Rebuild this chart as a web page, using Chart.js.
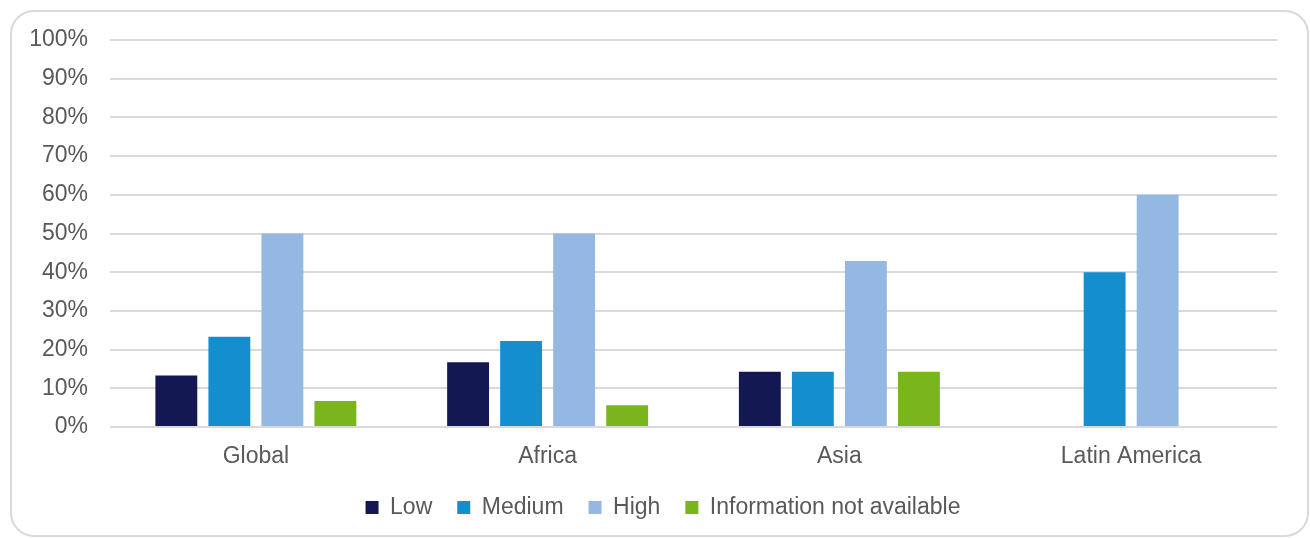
<!DOCTYPE html>
<html>
<head>
<meta charset="utf-8">
<script src="https://cdn.jsdelivr.net/npm/chart.js@4.4.1/dist/chart.umd.min.js"></script>
<style>
    body { margin: 0; background: #ffffff; }
    #marco {
        position: absolute; left: 10px; top: 10px;
        width: 1295px; height: 523px;
        border: 2px solid #d9d9d9; border-radius: 24px;
    }
    #myChart { position: absolute; left: 0; top: 0; }
</style>
</head>
<body>
<div id="marco"></div>
<canvas id="myChart" width="1310" height="538" style="width:1310px;height:538px"></canvas>
<script>
const regiones = ['Global', 'Africa', 'Asia', 'Latin America']
const bajo = [13.3, 16.7, 14.3, 0]
const medio = [23.3, 22.2, 14.3, 40]
const alto = [50, 50, 42.9, 60]
const sinInfo = [6.7, 5.6, 14.3, 0]
const ticksY = [0, 10, 20, 30, 40, 50, 60, 70, 80, 90, 100]

const gris = '#595959'
const fuente = { family: "'Liberation Sans', Arial, sans-serif", size: 23 }

const data = {
    labels: regiones,
    datasets: [
        { label: 'Low', backgroundColor: '#141852', data: bajo },
        { label: 'Medium', backgroundColor: '#148ecf', data: medio },
        { label: 'High', backgroundColor: '#95b8e2', data: alto },
        { label: 'Information not available', backgroundColor: '#7ab51d', data: sinInfo }
    ]
};

const config = {
    type: 'bar',
    data: data,
    options: {
        responsive: false,
        animation: false,
        categoryPercentage: 0.727,
        barPercentage: 0.79,
        layout: { padding: { left: 16, right: 0, top: 40, bottom: 9 } },
        plugins: {
            tooltip: { enabled: false },
            legend: {
                position: 'bottom',
                labels: {
                    color: gris,
                    font: fuente,
                    boxWidth: 13,
                    boxHeight: 13,
                    padding: 25
                }
            }
        },
        scales: {
            x: {
                grid: { display: false },
                border: { display: false },
                ticks: { color: gris, font: fuente, padding: 8 },
                afterFit: (escala) => { escala.height = 44 }
            },
            y: {
                min: 0,
                max: 100,
                afterBuildTicks: (escala) => { escala.ticks = ticksY.map(v => ({ value: v })) },
                grid: { color: '#d9d9d9', lineWidth: 2, drawTicks: false },
                border: { display: false },
                ticks: {
                    color: gris,
                    font: fuente,
                    padding: 22,
                    callback: (v) => v + '%'
                },
                afterFit: (escala) => { escala.width = 94 }
            },
            // eje vacio a la derecha, solo para dejar el margen
            derecha: {
                position: 'right',
                grid: { display: false },
                border: { display: false },
                ticks: { display: false },
                afterFit: (escala) => { escala.width = 33 }
            }
        }
    }
};

const myChart = new Chart(
    document.getElementById('myChart'),
    config
);
</script>
</body>
</html>
